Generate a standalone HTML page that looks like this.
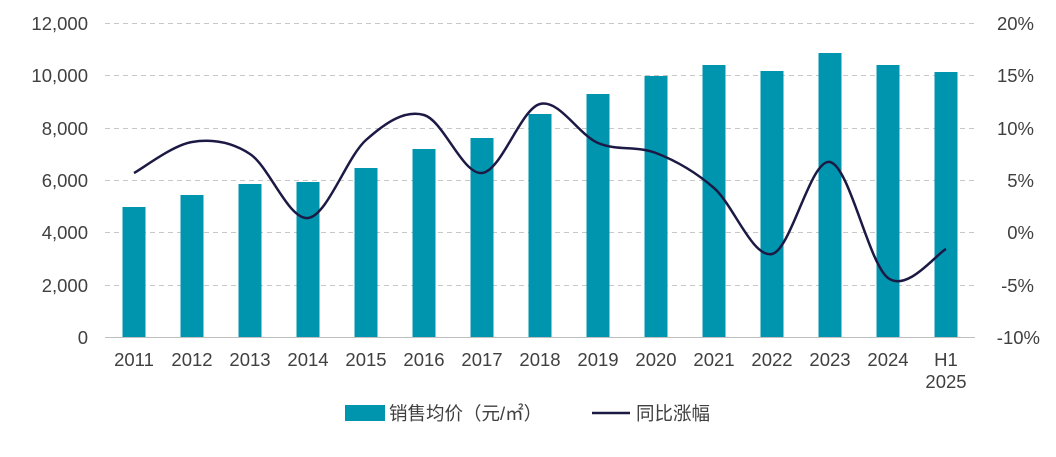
<!DOCTYPE html>
<html><head><meta charset="utf-8"><style>
body{margin:0;background:#fff;}
svg text{font-family:"Liberation Sans","Noto Sans CJK SC",sans-serif;font-size:18.5px;fill:#404040;}
</style></head><body>
<svg id="c" width="1056" height="452" xmlns="http://www.w3.org/2000/svg">
<g stroke="#c8c8c8" stroke-dasharray="5,4" stroke-width="1">
<line x1="105" x2="975" y1="23.5" y2="23.5"/>
<line x1="105" x2="975" y1="75.5" y2="75.5"/>
<line x1="105" x2="975" y1="128.5" y2="128.5"/>
<line x1="105" x2="975" y1="180.5" y2="180.5"/>
<line x1="105" x2="975" y1="232.5" y2="232.5"/>
<line x1="105" x2="975" y1="285.5" y2="285.5"/>
</g>
<line x1="105" x2="975" y1="337.5" y2="337.5" stroke="#bfbfbf"/>
<g id="bars" fill="#0095af"></g>
<path id="ln" fill="none" stroke="#1c1a45" stroke-width="2.5"/>
<g text-anchor="end">
<text x="88" y="30">12,000</text><text x="88" y="82">10,000</text><text x="88" y="135">8,000</text>
<text x="88" y="187">6,000</text><text x="88" y="239">4,000</text><text x="88" y="292">2,000</text><text x="88" y="344">0</text>
</g>
<g text-anchor="end">
<text x="1034" y="30">20%</text><text x="1034" y="82">15%</text><text x="1034" y="135">10%</text>
<text x="1034" y="187">5%</text><text x="1034" y="239">0%</text><text x="1034" y="292">-5%</text><text x="1040" y="344">-10%</text>
</g>
<g id="xl" text-anchor="middle"></g>
<rect x="345" y="405" width="40" height="16" fill="#0095af"/>
<text x="389" y="420">销售均价（元/㎡）</text>
<line x1="592" x2="630" y1="413" y2="413" stroke="#1c1a45" stroke-width="2.5"/>
<text x="636" y="420">同比涨幅</text>
</svg>
<script>
var tops=[207,195,184,182,168,149,138,114,94,76,65,71,53,65,72];
var ly=[173,142,154,218,140,115,173,104,143,153,188,254,162,278,249];
var labs=["2011","2012","2013","2014","2015","2016","2017","2018","2019","2020","2021","2022","2023","2024","H1"];
var ns="http://www.w3.org/2000/svg",b=document.getElementById("bars"),xl=document.getElementById("xl");
var X=function(i){return 134+i*58;};
for(var i=0;i<15;i++){var r=document.createElementNS(ns,"rect");r.setAttribute("x",X(i)-11.5);r.setAttribute("y",tops[i]);r.setAttribute("width",23);r.setAttribute("height",337-tops[i]);b.appendChild(r);
var t=document.createElementNS(ns,"text");t.setAttribute("x",X(i));t.setAttribute("y",366);t.textContent=labs[i];xl.appendChild(t);}
var t2=document.createElementNS(ns,"text");t2.setAttribute("x",X(14));t2.setAttribute("y",388);t2.textContent="2025";xl.appendChild(t2);
var p=[];for(i=0;i<15;i++)p.push([X(i),ly[i]]);
var d="M"+p[0][0]+","+p[0][1];
for(i=0;i<14;i++){var p0=p[i-1]||p[i],p1=p[i],p2=p[i+1],p3=p[i+2]||p[i+1];
d+=" C"+(p1[0]+(p2[0]-p0[0])/6)+","+(p1[1]+(p2[1]-p0[1])/6)+" "+(p2[0]-(p3[0]-p1[0])/6)+","+(p2[1]-(p3[1]-p1[1])/6)+" "+p2[0]+","+p2[1];}
document.getElementById("ln").setAttribute("d",d);
</script>
</body></html>
